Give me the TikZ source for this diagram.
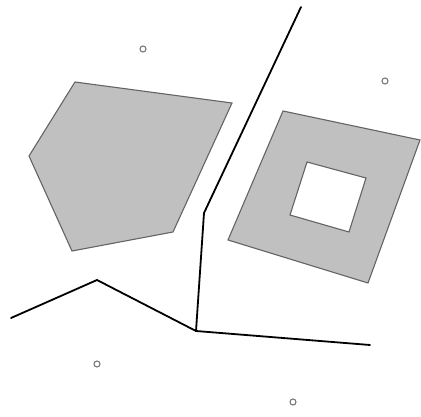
\documentclass[tikz,border=0pt]{standalone}
\begin{document}
\begin{tikzpicture}[x=1pt,y=-1pt,
  region/.style={fill=regfill,draw=regedge,line width=1.1pt,line join=miter},
  boundary/.style={draw=black,line width=1.8pt,line join=miter,line cap=round},
  site/.style={circle,draw=sitegray,line width=1.1pt,inner sep=0pt,minimum size=6pt}]
\definecolor{regfill}{RGB}{192,192,192}
\definecolor{regedge}{RGB}{100,100,100}
\definecolor{sitegray}{RGB}{120,120,120}
\useasboundingbox[fill=white] (0,0) rectangle (421,417);
% pentagon
\draw[region] (75,82) -- (232,103) -- (173,232) -- (72,251) -- (29,156) -- cycle;
% square with hole
\draw[region,even odd rule] (283,111) -- (420,140) -- (368,283) -- (228,240) -- cycle
  (307,162) -- (366,178) -- (349,232) -- (290,215) -- cycle;
% boundary lines
\coordinate (t) at (301,7);
\coordinate (m) at (204,213);
\coordinate (j) at (196,331);
\coordinate (r) at (370,345);
\coordinate (l) at (11,318);
\coordinate (p) at (97,280);
\draw[boundary] (t) -- (m) -- (j) -- (r);
\draw[boundary] (l) -- (p) -- (j);
% sites
\node[site] (s1) at (143,49) {};
\node[site] (s2) at (385,81) {};
\node[site] (s3) at (97,364) {};
\node[site] (s4) at (293,402) {};
\end{tikzpicture}
\end{document}
